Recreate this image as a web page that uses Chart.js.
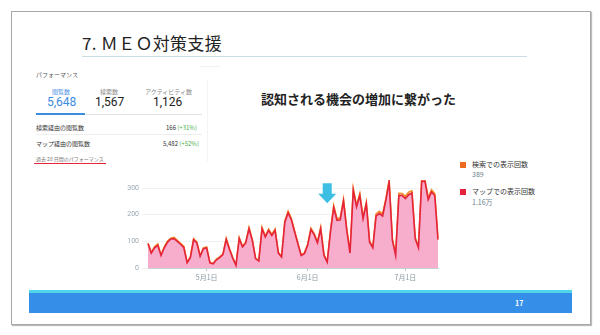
<!DOCTYPE html>
<html><head><meta charset="utf-8">
<script src="https://cdn.jsdelivr.net/npm/chart.js@4"></script>
<style>
html,body{margin:0;padding:0;background:#fff;width:600px;height:335px;overflow:hidden;font-family:"Noto Sans CJK JP","Noto Sans",sans-serif;}
.abs{position:absolute;white-space:nowrap;}
#frame{position:absolute;left:11px;top:11px;width:578px;height:312px;border:1px solid #a8a8a8;box-shadow:1px 1px 1px #bbb;}
#title{left:82px;top:30px;font-size:17px;color:#222;letter-spacing:0.3px;}
#tline{left:82px;top:56px;width:445px;height:1px;background:#c9dde2;}
#bar1{left:29px;top:290px;width:543px;height:3px;background:#4fd6ea;}
#bar2{left:29px;top:293px;width:543px;height:20px;background:#358fe8;}
#pg{left:515px;top:298px;font-size:7px;color:#fff;font-weight:bold;}
.s{font-size:6px;color:#555;}
#head{left:261px;top:89px;font-size:13px;font-weight:bold;color:#222;}
#chartbox{position:absolute;left:110px;top:170px;width:330px;height:116px;}
.lg{font-size:7px;color:#333;}
.lv{font-size:7px;color:#6b7f8c;}
.sq{position:absolute;width:6px;height:6px;}
</style></head>
<body>
<div id="frame"></div>
<div class="abs" id="title">7. ＭＥＯ対策支援</div>
<div class="abs" id="tline"></div>

<!-- performance panel -->
<div class="abs s" style="left:36px;top:70px;">パフォーマンス</div>
<div class="abs" style="left:200px;top:66px;width:20px;height:1px;background:#f2f2f2"></div>
<div class="abs" style="left:207px;top:80px;width:1px;height:82px;background:#f4f4f4"></div>
<div class="abs s" style="left:52px;top:87px;color:#4a90e2;">閲覧数</div>
<div class="abs s" style="left:100px;top:87px;color:#888;">検索数</div>
<div class="abs s" style="left:145px;top:87px;color:#888;">アクティビティ数</div>
<div class="abs" style="left:47px;top:95px;font-size:12px;color:#3b8de0;font-family:Roboto,sans-serif;">5,648</div>
<div class="abs" style="left:95px;top:95px;font-size:12px;color:#222;font-family:Roboto,sans-serif;">1,567</div>
<div class="abs" style="left:153px;top:95px;font-size:12px;color:#222;font-family:Roboto,sans-serif;">1,126</div>
<div class="abs" style="left:36px;top:114px;width:166px;height:1px;background:#e3e3e3"></div>
<div class="abs" style="left:36px;top:113px;width:49px;height:2px;background:#3b8de0"></div>
<div class="abs s" style="left:36px;top:123px;color:#333;">検索経由の閲覧数</div>
<div class="abs s" style="left:166px;top:123px;color:#333;">166 <span style="color:#4caf50">(+31%)</span></div>
<div class="abs" style="left:36px;top:134px;width:166px;height:1px;background:#eee"></div>
<div class="abs s" style="left:36px;top:139px;color:#333;">マップ経由の閲覧数</div>
<div class="abs s" style="left:163px;top:139px;color:#333;">5,482 <span style="color:#4caf50">(+52%)</span></div>
<div class="abs s" style="left:36px;top:155px;color:#777;font-size:5px;">過去 28 日間のパフォーマンス</div>
<div class="abs" style="left:34px;top:163px;width:72px;height:1px;background:#e8253f"></div>

<div class="abs" id="head">認知される機会の増加に繋がった</div>

<div id="chartbox"><canvas id="c"></canvas></div>

<div class="sq" style="left:460px;top:162px;background:#ee6a1e"></div>
<div class="abs lg" style="left:472px;top:159px;">検索での表示回数</div>
<div class="abs lv" style="left:472px;top:169px;">389</div>
<div class="sq" style="left:460px;top:189px;background:#e5233f"></div>
<div class="abs lg" style="left:472px;top:186px;">マップでの表示回数</div>
<div class="abs lv" style="left:472px;top:197px;">1.16万</div>

<div class="abs" id="bar1"></div>
<div class="abs" id="bar2"></div>
<div class="abs" id="pg">17</div>

<script>
const startDate = [2023, 4, 13];
const mapViews = [91,56,76,85,47,76,97,109,110,100,
  89,76,20,39,106,94,44,72,75,19,
  16,31,39,50,107,70,37,10,110,79,
  94,147,104,35,26,147,116,141,122,141,
  56,41,172,207,181,135,91,47,54,85,
  144,125,94,147,47,22,135,226,179,181,
  251,141,56,291,229,272,185,241,97,76,
  195,204,195,254,322,104,47,272,272,260,
  275,281,110,76,325,325,256,285,272,106];
const searchViews = [3,2,4,5,2,3,4,3,5,4,
  3,5,2,3,4,3,2,3,4,2,
  1,2,3,2,4,3,2,1,4,3,
  4,5,3,2,2,5,4,5,4,5,
  3,2,5,6,5,4,3,2,3,4,
  5,4,4,6,3,2,5,8,6,7,
  6,5,3,7,6,7,5,6,4,3,
  8,9,7,6,7,4,3,8,7,9,
  9,8,5,4,6,5,7,8,7,4];
const yTicks = [0,100,200,300];
const arrowIndex = 55;

const labels = [];
(function(){
  const d = new Date(startDate[0], startDate[1]-1, startDate[2]);
  for (let i=0;i<mapViews.length;i++){
    labels.push((d.getMonth()+1)+'月'+d.getDate()+'日');
    d.setDate(d.getDate()+1);
  }
})();
const totalViews = mapViews.map((v,i)=>v+searchViews[i]);

const arrowPlugin = {
  id:'arrow',
  afterDatasetsDraw(chart){
    const ctx = chart.ctx, xs = chart.scales.x, ys = chart.scales.y;
    const cx = xs.getPixelForValue(arrowIndex);
    const top = ys.getPixelForValue(318), tip = ys.getPixelForValue(243), neck = ys.getPixelForValue(278);
    ctx.save();
    ctx.fillStyle = '#3dbfe4';
    ctx.beginPath();
    ctx.moveTo(cx-4.5, top); ctx.lineTo(cx+4.5, top); ctx.lineTo(cx+4.5, neck);
    ctx.lineTo(cx+9, neck); ctx.lineTo(cx, tip); ctx.lineTo(cx-9, neck); ctx.lineTo(cx-4.5, neck);
    ctx.closePath(); ctx.fill();
    ctx.restore();
  }
};

new Chart(document.getElementById('c'), {
  type:'line',
  data:{
    labels: labels,
    datasets:[
      {label:'マップでの表示回数', data: mapViews, borderColor:'#e5233a', borderWidth:1.6,
       backgroundColor:'rgba(246,160,196,0.85)', fill:'origin', pointRadius:0, tension:0},
      {label:'検索での表示回数', data: totalViews, borderColor:'#f08a24', borderWidth:1.6,
       fill:false, pointRadius:0, tension:0}
    ]
  },
  options:{
    responsive:true, maintainAspectRatio:false, animation:false,
    layout:{padding:{top:10,right:0,left:0,bottom:0}},
    plugins:{legend:{display:false}, tooltip:{enabled:false}},
    scales:{
      x:{
        grid:{drawOnChartArea:false, tickLength:3,
          color:(c)=> (c.tick && labels[c.index] && /月1日$/.test(labels[c.index])) ? '#b8c4ca' : 'rgba(0,0,0,0)'},
        border:{color:'#c8d2d6'},
        ticks:{autoSkip:false, maxRotation:0, padding:2, color:'#8a9aa3', font:{size:7, family:'"Noto Sans CJK JP"'},
          callback:(v,i)=> /月1日$/.test(labels[i]) ? labels[i] : ''},
        afterFit:(s)=>{s.height=18;}
      },
      y:{
        min:0, max:330,
        afterBuildTicks:(s)=>{ s.ticks = yTicks.map(v=>({value:v})); },
        grid:{color:'#eef2f3', drawTicks:true, tickLength:6},
        border:{display:false},
        ticks:{color:'#9aa8b0', padding:3, font:{size:7, family:'Roboto'}},
        afterFit:(s)=>{s.width=38;}
      }
    }
  },
  plugins:[arrowPlugin]
});
</script>
</body></html>
